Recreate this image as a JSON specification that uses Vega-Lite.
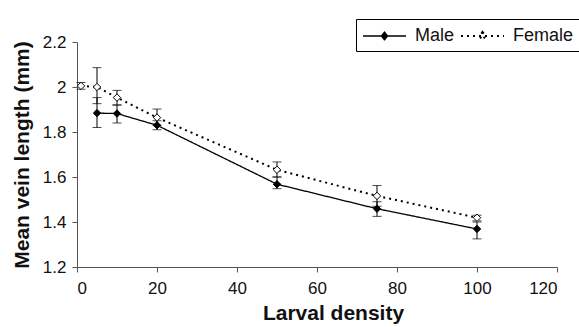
{
  "$schema": "https://vega.github.io/schema/vega-lite/v6.json",
  "autosize": {"type": "none"},
  "width": 480,
  "height": 225,
  "padding": {"left": 77, "top": 42, "right": 22, "bottom": 60},
  "background": "white",
  "config": {
    "view": {"stroke": null},
    "font": "Liberation Sans",
    "axis": {
      "grid": false,
      "domainColor": "#555",
      "tickColor": "#555",
      "tickSize": 5,
      "labelFont": "Liberation Sans",
      "labelFontSize": 17,
      "labelColor": "#111",
      "titleFont": "Liberation Sans",
      "titleFontWeight": "bold",
      "titleColor": "#111"
    }
  },
  "data": {
    "values": [
      {"density": 5, "sex": "Male", "mean": 1.884, "lo": 1.82, "hi": 1.953},
      {"density": 10, "sex": "Male", "mean": 1.882, "lo": 1.84, "hi": 1.92},
      {"density": 20, "sex": "Male", "mean": 1.83, "lo": 1.81, "hi": 1.85},
      {"density": 50, "sex": "Male", "mean": 1.568, "lo": 1.548, "hi": 1.6},
      {"density": 75, "sex": "Male", "mean": 1.459, "lo": 1.425, "hi": 1.49},
      {"density": 100, "sex": "Male", "mean": 1.369, "lo": 1.325, "hi": 1.4},
      {"density": 1, "sex": "Female", "mean": 2.005, "lo": 1.99, "hi": 2.02},
      {"density": 5, "sex": "Female", "mean": 2.0, "lo": 1.926, "hi": 2.086},
      {"density": 10, "sex": "Female", "mean": 1.953, "lo": 1.92, "hi": 1.985},
      {"density": 20, "sex": "Female", "mean": 1.864, "lo": 1.83, "hi": 1.902},
      {"density": 50, "sex": "Female", "mean": 1.632, "lo": 1.6, "hi": 1.667},
      {"density": 75, "sex": "Female", "mean": 1.516, "lo": 1.47, "hi": 1.562},
      {"density": 100, "sex": "Female", "mean": 1.419, "lo": 1.405, "hi": 1.43}
    ]
  },
  "encoding": {
    "x": {
      "field": "density",
      "type": "quantitative",
      "scale": {"domain": [0, 120], "nice": false},
      "axis": {"values": [0, 20, 40, 60, 80, 100, 120], "title": "Larval density", "titleFontSize": 21, "titlePadding": 6, "labelPadding": 8, "titleX": 256}
    }
  },
  "layer": [
    {
      "mark": {"type": "errorbar", "color": "black", "ticks": {"size": 9, "color": "black"}, "rule": {"color": "black", "strokeWidth": 1}},
      "encoding": {
        "y": {
          "field": "lo",
          "type": "quantitative",
          "scale": {"domain": [1.2, 2.2], "nice": false},
          "axis": {"values": [1.2, 1.4, 1.6, 1.8, 2.0, 2.2], "format": "~g", "title": "Mean vein length (mm)", "titleFontSize": 21, "titlePadding": 10, "labelPadding": 6}
        },
        "y2": {"field": "hi"},
        "detail": {"field": "sex"}
      }
    },
    {
      "mark": {"type": "line", "color": "black"},
      "encoding": {
        "y": {"field": "mean", "type": "quantitative"},
        "strokeWidth": {
          "field": "sex",
          "type": "nominal",
          "scale": {"domain": ["Male", "Female"], "range": [1.3, 2]},
          "legend": null
        },
        "strokeDash": {
          "field": "sex",
          "type": "nominal",
          "scale": {"domain": ["Male", "Female"], "range": [[1, 0], [2, 4]]},
          "legend": {
            "title": null,
            "orient": "none",
            "legendX": 279,
            "legendY": -23,
            "direction": "horizontal",
            "strokeColor": "black",
            "fillColor": "white",
            "padding": 6,
            "symbolType": "M-1,0H3.3M1.15,-0.4L1.45,0L1.15,0.4L0.85,0Z",
            "symbolSize": 400,
            "symbolStrokeColor": "black",
            "symbolStrokeWidth": 1.2,
            "labelFont": "Liberation Sans",
            "labelFontSize": 18,
            "labelColor": "#111",
            "labelOffset": 31,
            "columnPadding": 2,
            "encode": {
              "symbols": {"update": {
                "fill": {"signal": "datum.label === 'Male' ? 'black' : 'white'"},
                "stroke": {"value": "black"},
                "strokeWidth": {"value": 1.2},
                "opacity": {"value": 1}
              }}
            }
          }
        }
      }
    },
    {
      "mark": {"type": "point", "shape": "diamond", "filled": true, "size": 55, "stroke": "black", "strokeWidth": 1, "opacity": 1},
      "encoding": {
        "y": {"field": "mean", "type": "quantitative"},
        "fill": {
          "field": "sex",
          "type": "nominal",
          "scale": {"domain": ["Male", "Female"], "range": ["black", "white"]},
          "legend": null
        }
      }
    }
  ]
}
